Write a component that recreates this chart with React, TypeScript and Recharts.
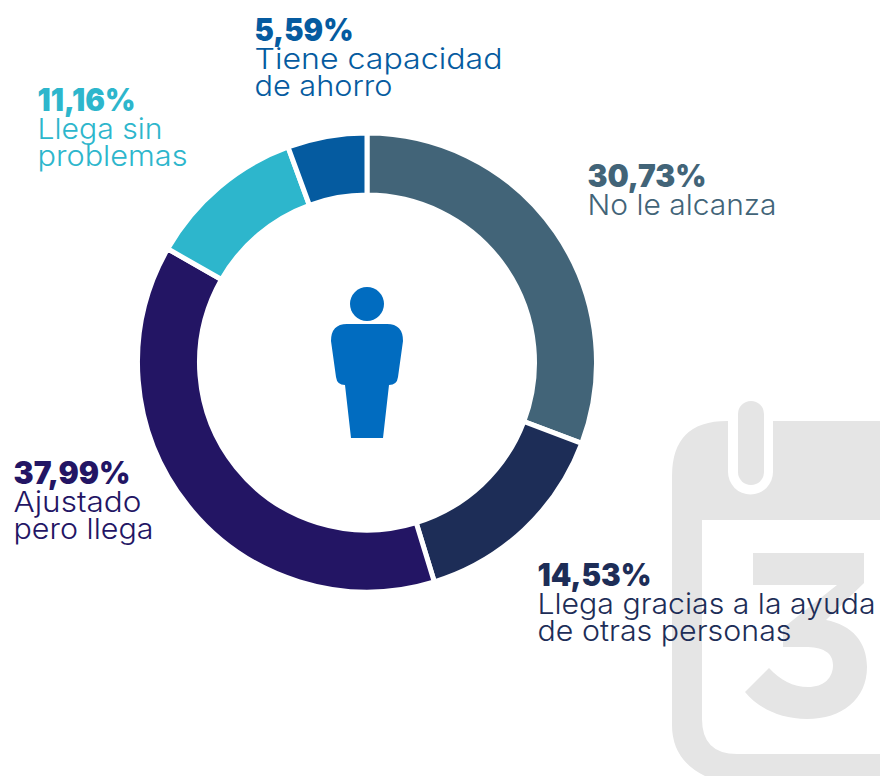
import { PieChart, Pie, Cell } from "recharts";

const categories = ["No le alcanza", "Llega gracias a la ayuda de otras personas", "Ajustado pero llega", "Llega sin problemas", "Tiene capacidad de ahorro"];
const shares = [30.73, 14.53, 37.99, 11.16, 5.59];
const shareLabels = ["30,73%", "14,53%", "37,99%", "11,16%", "5,59%"];
const labelLines = [
  ["No le alcanza"],
  ["Llega gracias a la ayuda", "de otras personas"],
  ["Ajustado", "pero llega"],
  ["Llega sin", "problemas"],
  ["Tiene capacidad", "de ahorro"],
];
const colors = ["#426478", "#1d2d57", "#231564", "#2db6cc", "#055ba0"];

const rows = categories.map((name, i) => ({ name, value: shares[i] }));

// where each label block sits, and the measured width of each line
const labelLayout = [
  { x: 587.5, y: 187, widths: [119, 189] },
  { x: 537.5, y: 586, widths: [114, 338, 254] },
  { x: 13.5, y: 484, widths: [117, 128, 140] },
  { x: 37.5, y: 111, widths: [98, 125, 150] },
  { x: 254.5, y: 41, widths: [99, 248, 138] },
];

const FONT = "Inter, 'Open Sans', sans-serif";

function SliceLabel({ index }: { index: number }) {
  const spot = labelLayout[index];
  return (
    <g fontFamily={FONT} fill={colors[index]}>
      <text x={spot.x} y={spot.y} fontSize={31} fontWeight={900} textLength={spot.widths[0]} lengthAdjust="spacingAndGlyphs">
        {shareLabels[index]}
      </text>
      {labelLines[index].map((line, i) => (
        <text
          key={line}
          x={spot.x}
          y={spot.y + 27.5 * (i + 1)}
          fontSize={28.5}
          fontWeight={300}
          textLength={spot.widths[i + 1]}
          lengthAdjust="spacingAndGlyphs"
        >
          {line}
        </text>
      ))}
    </g>
  );
}

function Person() {
  return (
    <g fill="#016cc0">
      <circle cx={367} cy={304} r={17} />
      <path d="M347 324 H387 Q403 324 403 341 L398 377 Q397 385 389 385 L383 438 H351 L345 385 Q337 385 336 377 L331 341 Q331 324 347 324 Z" />
    </g>
  );
}

function CalendarMark() {
  return (
    <svg width={880} height={776} style={{ position: "absolute", left: 0, top: 0 }}>
      <path
        fill="#e5e5e5"
        fillRule="evenodd"
        d="M727 421 H880 V776 H705 Q672 760 672 725 V476 Q672 421 727 421 Z M702 520 V719 Q702 754 737 754 H880 V520 Z"
      />
      <path fill="#fff" d="M728 415 H773 V472 A22.5 22.5 0 0 1 728 472 Z" />
      <rect x={738} y={401} width={26} height={84} rx={13} fill="#e5e5e5" />
      <path
        fill="#e5e5e5"
        d="M753 553 H864 V583 L826 620 C852 625 867 642 867 667 C867 699 842 719 807 719 C780 719 758 708 745 692 L769 668 C780 680 793 687 808 687 C824 687 833 678 833 665 C833 652 822 647 805 647 H783 V628 L837 585 H753 Z"
      />
    </svg>
  );
}

export default function App() {
  return (
    <div style={{ position: "absolute", left: 0, top: 0, width: 880, height: 776, background: "#fff", overflow: "hidden" }}>
      <CalendarMark />
      <div style={{ position: "absolute", left: 0, top: 0 }}>
        <PieChart width={880} height={776} margin={{ top: 0, right: 0, bottom: 0, left: 0 }}>
          <Pie
            data={rows}
            dataKey="value"
            nameKey="name"
            cx={367}
            cy={362.5}
            innerRadius={167.5}
            outerRadius={229.5}
            startAngle={90}
            endAngle={-270}
            stroke="#fff"
            strokeWidth={5}
            isAnimationActive={false}
            labelLine={false}
            label={(props: any) => <SliceLabel index={props.index} />}
          >
            {rows.map((row, i) => (
              <Cell key={row.name} fill={colors[i]} />
            ))}
          </Pie>
          <Person />
        </PieChart>
      </div>
    </div>
  );
}
